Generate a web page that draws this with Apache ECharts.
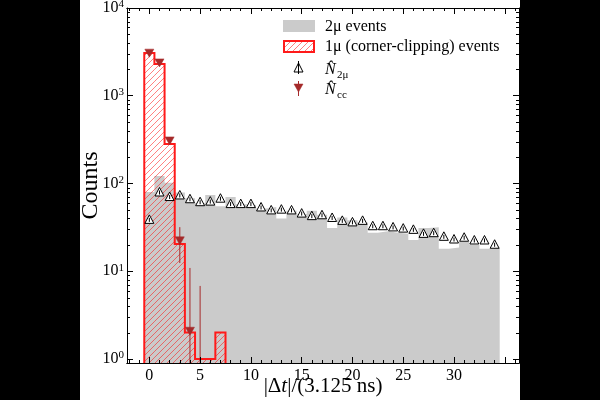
<!DOCTYPE html>
<html><head><meta charset="utf-8">
<script src="https://cdn.jsdelivr.net/npm/echarts@6/dist/echarts.min.js"></script>
<style>
html,body{margin:0;padding:0;background:#000;width:600px;height:400px;overflow:hidden}
#chart{position:absolute;left:80px;top:0;width:440px;height:400px;background:#fff}
</style></head><body><div id="chart"></div>
<script>
// ---------------- data ----------------
const xBins = [0,1,2,3,4,5,6,7,8,9,10,11,12,13,14,15,16,17,18,19,20,21,22,23,24,25,26,27,28,29,30,31,32,33,34];
const twoMuEvents = [80,122,102,79,68,60,74,55,70,58,57,52,54,40,49,45,49,44,31,41,38,36,27.5,28.5,27.5,26.8,22.7,31,31.8,18,18.7,21.7,20,18,18.5];
const clipBins = [0,1,2,3,4,5,6,7];
const clipEvents = [3070,2300,282,20.5,2,1,1,2];
const n2muEstimate = [39,80,71,74,67,62,63,68,59,59,59,54,50,51,50,46,43,44,41,38,36.5,38,33,33,32,31,30,27,27.5,25,23.3,24.4,22.7,22.7,20.3];
const nccBins = [0,1,2,3,4,5];
const nccEstimate = [3100,2400,310,22.5,2.1,null];
const nccErrLow = [2950,2280,285,12.4,0.9,0.9];
const nccErrHigh = [3250,2520,335,31.8,10.9,6.8];
const xLabelTicks = [0,5,10,15,20,25,30];
const xMajorTicks = [0,5,10,15,20,25,30,35];
const xMinorTicks = [-2,-1,0,1,2,3,4,5,6,7,8,9,10,11,12,13,14,15,16,17,18,19,20,21,22,23,24,25,26,27,28,29,30,31,32,33,34,35,36];
const yMinorTicks = [2,3,4,5,6,7,8,9,20,30,40,50,60,70,80,90,200,300,400,500,600,700,800,900,2000,3000,4000,5000,6000,7000,8000,9000];
const xMin = -2.2, xMax = 36.4, yMin = 0.9, yMax = 10000;
const xTitle = '{n||Δ}{i|t}{n||/(3.125 ns)}';
const yTitle = 'Counts';

// ---------------- helpers ----------------
const FONT = '"Liberation Serif", "Times New Roman", serif';
const GRAY = '#cbcbcb', RED = '#ff1a1a', BROWN = '#a52a2a';
const HATCH = 'rgba(255,0,0,0.5)';

// diagonal "/" hatch segments clipped to a rectangle (pixel space)
function hatchSegs(x0, y0, x1, y1, s){
  const segs = [];
  const cStart = Math.ceil((x0 + y0) / s) * s;
  for (let c = cStart; c <= x1 + y1; c += s){
    const xa = Math.max(x0, c - y1), xb = Math.min(x1, c - y0);
    if (xb > xa) segs.push([xa, c - xa, xb, c - xb]);
  }
  return segs;
}
function hatchGroup(x0, y0, x1, y1){
  return hatchSegs(x0, y0, x1, y1, 6).map(g => ({
    type: 'line', silent: true, shape: {x1: g[0], y1: g[1], x2: g[2], y2: g[3]},
    style: {stroke: HATCH, lineWidth: 1}
  }));
}

function stepPoints(centers, values, base){
  const pts = [[centers[0]-0.5, base]];
  centers.forEach((c,i)=>{ pts.push([c-0.5, values[i]]); pts.push([c+0.5, values[i]]); });
  pts.push([centers[centers.length-1]+0.5, base]);
  return pts;
}

function logLabel(v){
  const e = Math.round(Math.log10(v));
  if (Math.abs(Math.pow(10,e) - v) > 1e-6 * v) return '';
  return '{b|10}{s|' + e + '}';
}
const labelRich = {
  b: {fontFamily: FONT, fontSize: 16, color: '#000', lineHeight: 18},
  s: {fontFamily: FONT, fontSize: 11, color: '#000', lineHeight: 11, verticalAlign: 'top'}
};

function xAx(pos, major, withLabel){
  return {
    type: 'value', min: xMin, max: xMax, position: pos, z: 10,
    axisLine: {show: true, onZero: false, lineStyle: {color: '#000', width: 1}},
    splitLine: {show: false},
    axisTick: {show: true, inside: true, length: major ? 6 : 3, customValues: major ? xMajorTicks : xMinorTicks, lineStyle: {color: '#000', width: 1}},
    axisLabel: withLabel ? {show: true, customValues: xLabelTicks, margin: 5, fontFamily: FONT, fontSize: 16, color: '#000'} : {show: false},
    name: withLabel ? xTitle : '', nameLocation: 'middle', nameGap: 13, nameMoveOverlap: false,
    nameTextStyle: {rich: {
      n: {fontFamily: FONT, fontSize: 21, color: '#000'},
      i: {fontFamily: FONT, fontSize: 21, fontStyle: 'italic', color: '#000'}
    }}
  };
}
function yAx(pos, withLabel){
  return {
    type: 'log', logBase: 10, min: yMin, max: yMax, position: pos, z: 10,
    axisLine: {show: true, onZero: false, lineStyle: {color: '#000', width: 1}},
    splitLine: {show: false}, minorTick: {show: false},
    axisTick: {show: true, inside: true, length: 6, lineStyle: {color: '#000', width: 1}},
    axisLabel: withLabel ? {show: true, margin: 3, formatter: logLabel, rich: labelRich} : {show: false},
    name: withLabel ? yTitle : '', nameLocation: 'middle', nameGap: 24, nameMoveOverlap: false,
    nameTextStyle: {fontFamily: FONT, fontSize: 24, color: '#000'}
  };
}

function renderHatchBar(params, api){
  const c = api.value(0), v = api.value(1);
  const a = api.coord([c - 0.5, v]);
  const b = api.coord([c + 0.5, yMin]);
  return {type: 'group', children: hatchGroup(a[0], a[1], b[0], b[1])};
}
// minor log ticks placed through the log axis scale, on both vertical frame sides
function renderYMinorTick(params, api){
  const l = api.coord([xMin, api.value(0)]);
  const r = api.coord([xMax, api.value(0)]);
  return {type: 'group', children: [
    {type: 'line', shape: {x1: l[0], y1: Math.round(l[1]) + 0.5, x2: l[0] + 3, y2: Math.round(l[1]) + 0.5}, style: {stroke: '#000', lineWidth: 1}},
    {type: 'line', shape: {x1: r[0] - 3, y1: Math.round(r[1]) + 0.5, x2: r[0], y2: Math.round(r[1]) + 0.5}, style: {stroke: '#000', lineWidth: 1}}
  ]};
}
function renderUpTri(params, api){
  const p = api.coord([api.value(0), api.value(1)]);
  const x = p[0], y = p[1];
  return {type: 'group', children: [
    {type: 'polygon', shape: {points: [[x-4.5, y+4], [x+4.5, y+4], [x, y-4.5]]},
     style: {fill: '#fff', stroke: '#000', lineWidth: 1}},
    {type: 'line', shape: {x1: x, y1: y-1.5, x2: x, y2: y+2.5}, style: {stroke: '#000', lineWidth: 1}}
  ]};
}
function renderDownTri(params, api){
  const p = api.coord([api.value(0), api.value(1)]);
  const x = p[0], y = p[1];
  return {type: 'polygon', shape: {points: [[x-4.5, y-3.5], [x+4.5, y-3.5], [x, y+4.5]]},
          style: {fill: BROWN, stroke: BROWN, lineWidth: 0.5}};
}
function renderErr(params, api){
  const a = api.coord([api.value(0), api.value(1)]);
  const b = api.coord([api.value(0), api.value(2)]);
  return {type: 'line', shape: {x1: a[0], y1: a[1], x2: b[0], y2: b[1]}, style: {stroke: BROWN, lineWidth: 1}};
}

const nccMarkers = [];
nccBins.forEach((b,i)=>{ if (nccEstimate[i] != null) nccMarkers.push([b, nccEstimate[i]]); });

const chart = echarts.init(document.getElementById('chart'));
chart.setOption({
  animation: false,
  grid: {left: 47, right: 1, top: 8, bottom: 37, containLabel: false, outerBoundsMode: 'none'},
  xAxis: [xAx('bottom', false, true), xAx('bottom', true, false), xAx('top', false, false), xAx('top', true, false)],
  yAxis: [yAx('left', true), yAx('right', false)],
  series: [
    {type: 'line', name: '2μ events', xAxisIndex: 0, yAxisIndex: 0, z: 1,
     data: stepPoints(xBins, twoMuEvents, yMin), symbol: 'none', showSymbol: false,
     lineStyle: {width: 0, color: GRAY}, areaStyle: {color: GRAY, opacity: 1, origin: 'start'}, clip: true},
    {type: 'custom', name: '1μ hatch', xAxisIndex: 0, yAxisIndex: 0, z: 2, clip: true,
     renderItem: renderHatchBar, data: clipBins.map((b,i)=>[b, clipEvents[i]])},
    {type: 'line', name: '1μ (corner-clipping) events', xAxisIndex: 0, yAxisIndex: 0, z: 2,
     data: stepPoints(clipBins, clipEvents, yMin), symbol: 'none', showSymbol: false,
     lineStyle: {width: 2, color: RED, join: 'miter'}, clip: true},
    {type: 'custom', name: 'N2mu', xAxisIndex: 0, yAxisIndex: 0, z: 3, clip: true,
     renderItem: renderUpTri, data: xBins.map((b,i)=>[b, n2muEstimate[i]])},
    {type: 'custom', name: 'Ncc err', xAxisIndex: 0, yAxisIndex: 0, z: 4, clip: true,
     renderItem: renderErr, data: nccBins.map((b,i)=>[b, nccErrLow[i], nccErrHigh[i]])},
    {type: 'custom', name: 'Ncc', xAxisIndex: 0, yAxisIndex: 0, z: 5, clip: true,
     renderItem: renderDownTri, data: nccMarkers},
    {type: 'custom', name: 'y minor ticks', xAxisIndex: 0, yAxisIndex: 0, z: 11, clip: false, silent: true,
     renderItem: renderYMinorTick, data: yMinorTicks.map(v => [v])}
  ],
  graphic: {elements: [
    {type: 'rect', shape: {x: 203, y: 20, width: 32, height: 12}, style: {fill: GRAY}},
    {type: 'group', children: hatchGroup(204, 41, 234, 52)},
    {type: 'rect', shape: {x: 204, y: 41, width: 30, height: 11}, style: {fill: 'none', stroke: RED, lineWidth: 2}},
    {type: 'text', x: 245, y: 27, style: {text: '2μ events', fontFamily: FONT, fontSize: 16, fill: '#000', verticalAlign: 'middle'}},
    {type: 'text', x: 245, y: 47, style: {text: '1μ (corner-clipping) events', fontFamily: FONT, fontSize: 16, fill: '#000', verticalAlign: 'middle'}},
    {type: 'polygon', shape: {points: [[214, 72], [223, 72], [218.5, 63]]}, style: {fill: '#fff', stroke: '#000', lineWidth: 1}},
    {type: 'line', shape: {x1: 218.5, y1: 61, x2: 218.5, y2: 74}, style: {stroke: '#000', lineWidth: 1}},
    {type: 'text', x: 245, y: 70, style: {text: 'N\u0302', fontFamily: FONT, fontSize: 16, fontStyle: 'italic', fill: '#000', verticalAlign: 'middle'}},
    {type: 'text', x: 257, y: 75, style: {text: '2μ', fontFamily: FONT, fontSize: 11, fill: '#000', verticalAlign: 'middle'}},
    {type: 'line', shape: {x1: 218.5, y1: 81, x2: 218.5, y2: 96}, style: {stroke: BROWN, lineWidth: 1}},
    {type: 'polygon', shape: {points: [[214, 84], [223, 84], [218.5, 92]]}, style: {fill: BROWN, stroke: BROWN, lineWidth: 0.5}},
    {type: 'text', x: 245, y: 90, style: {text: 'N\u0302', fontFamily: FONT, fontSize: 16, fontStyle: 'italic', fill: '#000', verticalAlign: 'middle'}},
    {type: 'text', x: 257, y: 95, style: {text: 'cc', fontFamily: FONT, fontSize: 11, fill: '#000', verticalAlign: 'middle'}}
  ]}
});
</script></body></html>
